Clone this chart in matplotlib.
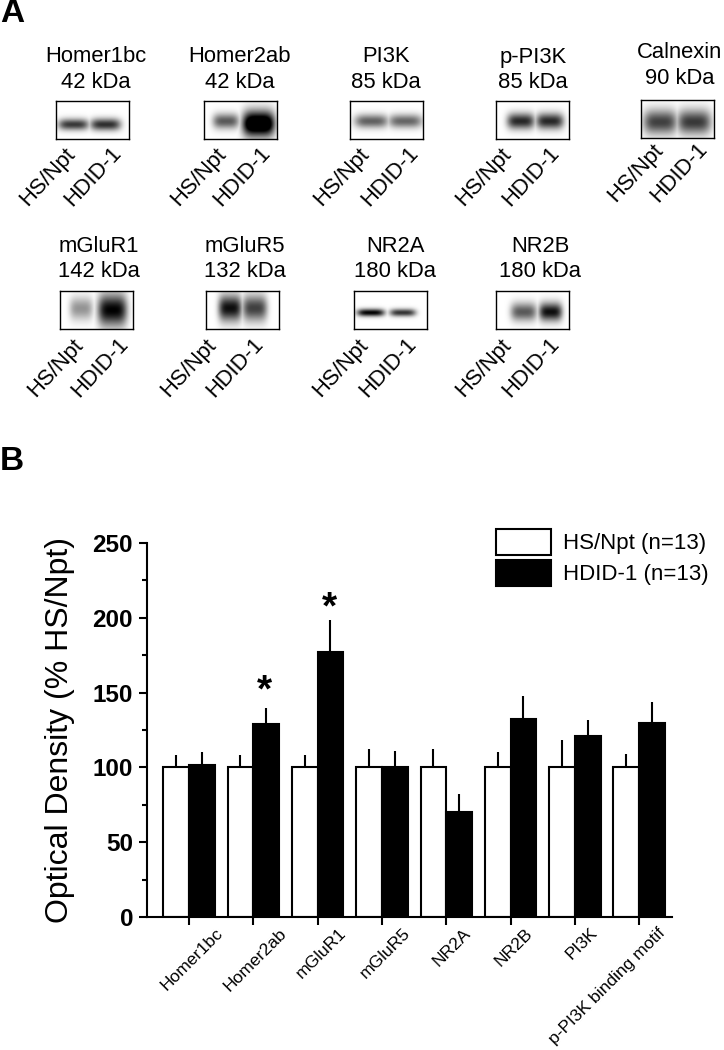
import numpy as np
import matplotlib
matplotlib.use('Agg')
import matplotlib.pyplot as plt
from matplotlib.transforms import ScaledTranslation

plt.rcParams['font.family'] = ['Liberation Sans', 'DejaVu Sans']

W, H = 724, 1050

## panel B values
categories = ['Homer1bc', 'Homer2ab', 'mGluR1', 'mGluR5', 'NR2A', 'NR2B', 'PI3K', 'p-PI3K binding motif']
hs_npt = [100, 100, 100, 100, 100, 100, 100, 100]
hs_npt_err = [8, 8, 8, 12, 12, 10, 18, 9]
hdid = [101.5, 129, 177, 100, 70.5, 132.5, 121, 129.5]
hdid_err = [8.5, 10.7, 21.7, 11, 11.5, 15.5, 11, 14.5]
star_idx = [1, 2]
star_y = [151, 206.5]
label_dx = [26, 26, 21, 21, 17, 14, 15, 18]

## panel A blots: name, size, lane centre, half width, band y, band sigma, darkness
blot_names = ['Homer1bc', 'Homer2ab', 'PI3K', 'p-PI3K', 'Calnexin', 'mGluR1', 'mGluR5', 'NR2A', 'NR2B']
blot_kda = ['42 kDa', '42 kDa', '85 kDa', '85 kDa', '90 kDa', '142 kDa', '132 kDa', '180 kDa', '180 kDa']
lane_x = [(.24, .68), (.30, .75), (.29, .75), (.34, .74), (.26, .72), (.29, .72), (.33, .67), (.23, .67), (.38, .75)]
lane_w = [(.21, .21), (.18, .22), (.23, .23), (.19, .19), (.23, .23), (.16, .20), (.16, .17), (.19, .18), (.18, .16)]
band_y = [(.62, .62), (.53, .60), (.53, .53), (.53, .53), (.58, .58), (.46, .50), (.45, .45), (.57, .57), (.55, .55)]
band_s = [(.15, .16), (.20, .33), (.18, .18), (.21, .21), (.32, .32), (.30, .42), (.34, .34), (.10, .10), (.24, .24)]
band_d = [(.78, .82), (.65, 1.4), (.62, .60), (.85, .85), (.75, .78), (.42, 1.0), (.95, .75), (1.0, .8), (.65, .95)]

## pixel layout of panel A
box_x0 = [56, 204, 349.5, 496, 641, 60, 205.5, 354, 496]
box_y0 = [101, 101, 101, 101, 100, 291, 291, 291, 291]
box_w = 73
box_h = 38
text_x = [95.5, 240, 386, 533, 680, 99, 245, 395, 540]
text_y1 = [57, 57, 57, 57, 52, 247, 247, 247, 247]
text_y2 = [83, 83, 83, 83, 78, 272, 272, 272, 272]
hs_x = [47.5, 198.5, 341.5, 484, 636, 56, 189, 341, 484]
hd_x = [93, 242, 390, 531, 679, 100.5, 235, 388, 531]
lab_y = [177, 177, 177, 177, 173, 368, 368, 368, 368]

fig = plt.figure(figsize=(W / 100, H / 100), dpi=100)


def px_axes(x0, y0, x1, y1):
    return fig.add_axes([x0 / W, 1 - y1 / H, (x1 - x0) / W, (y1 - y0) / H])


# blots
yy, xx = np.mgrid[0:1:80j, 0:1:150j]
for i in range(len(blot_names)):
    img = np.zeros_like(xx)
    for lane in range(2):
        across = np.exp(-((xx - lane_x[i][lane]) / lane_w[i][lane]) ** 4)
        down = np.exp(-((yy - band_y[i][lane]) / band_s[i][lane]) ** 2)
        img = np.maximum(img, band_d[i][lane] * across * down)
    a = px_axes(box_x0[i], box_y0[i], box_x0[i] + box_w, box_y0[i] + box_h)
    a.imshow(np.clip(img, 0, 1), cmap='gray_r', vmin=0, vmax=1, aspect='auto', extent=[0, 1, 1, 0])
    a.set_xticks([])
    a.set_yticks([])
    for s in a.spines.values():
        s.set_linewidth(1.0)

    fig.text(text_x[i] / W, 1 - text_y1[i] / H, blot_names[i], fontsize=15.8, ha='center', va='center')
    fig.text(text_x[i] / W, 1 - text_y2[i] / H, blot_kda[i], fontsize=15.8, ha='center', va='center')
    fig.text(hs_x[i] / W, 1 - lab_y[i] / H, 'HS/Npt', fontsize=15.8, rotation=47, ha='center', va='center')
    fig.text(hd_x[i] / W, 1 - lab_y[i] / H, 'HDID-1', fontsize=15.8, rotation=47, ha='center', va='center')

fig.text(0 / W, 1 - 14 / H, 'A', fontsize=24, fontweight='bold', ha='left', va='center')
fig.text(0 / W, 1 - 461 / H, 'B', fontsize=24, fontweight='bold', ha='left', va='center')

## bar chart
ax = px_axes(147, 543, 672, 917)
x = np.arange(len(categories))
width = 0.4
b1 = ax.bar(x - width / 2, hs_npt, width, color='white', edgecolor='black', linewidth=1.5, label='HS/Npt (n=13)')
b2 = ax.bar(x + width / 2, hdid, width, color='black', edgecolor='black', linewidth=1.5, label='HDID-1 (n=13)')
ax.errorbar(x - width / 2, hs_npt, yerr=[np.zeros(8), hs_npt_err], fmt='none', ecolor='black', elinewidth=1.5, capsize=0)
ax.errorbar(x + width / 2, hdid, yerr=[np.zeros(8), hdid_err], fmt='none', ecolor='black', elinewidth=1.5, capsize=0)

for i, y in zip(star_idx, star_y):
    ax.text(i + width / 2 - 0.02, y, '*', fontsize=28, fontweight='bold', ha='center', va='center')

ax.set_xlim(-0.653, 7.51)
ax.set_ylim(0, 250)
ax.spines['top'].set_visible(False)
ax.spines['right'].set_visible(False)
ax.spines['left'].set_linewidth(1.5)
ax.spines['bottom'].set_linewidth(1.5)

ax.set_yticks([0, 50, 100, 150, 200, 250])
ax.set_yticks([25, 75, 125, 175, 225], minor=True)
ax.tick_params(axis='y', which='major', length=6, width=1.5, labelsize=17.5, pad=4)
ax.tick_params(axis='y', which='minor', length=3.5, width=1.5)
for t in ax.get_yticklabels():
    t.set_fontweight('bold')

ax.set_xticks(x)
ax.set_xticklabels(categories, rotation=45, ha='right', rotation_mode='anchor', fontsize=12.6)
ax.tick_params(axis='x', length=6, width=1.5, pad=0)
for t, dx in zip(ax.get_xticklabels(), label_dx):
    t.set_transform(t.get_transform() + ScaledTranslation(dx / 100, 0, fig.dpi_scale_trans))

ax.set_ylabel('Optical Density (% HS/Npt)', fontsize=23)
ax.yaxis.set_label_coords((75 - 147) / 525, 0.5)

ax.legend(handles=[b1, b2], loc='upper left', bbox_to_anchor=((489 - 147) / 525, (917 - 522) / 374),
          frameon=False, fontsize=16, handlelength=2.5, handleheight=1.45, handletextpad=0.55,
          labelspacing=0.2, borderpad=0.3, borderaxespad=0)

fig.savefig('out.png', dpi=100)
